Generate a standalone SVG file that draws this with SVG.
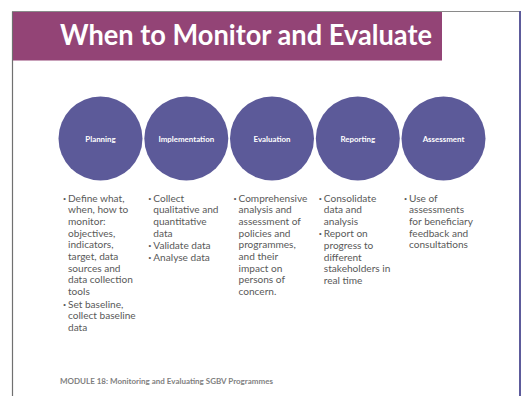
<svg xmlns="http://www.w3.org/2000/svg" width="522" height="396" viewBox="0 0 522 396">
<style>
.circ{fill:#5c5a99}
.lbl{font-family:Lato,"Open Sans","Liberation Sans",sans-serif;font-weight:bold;font-size:7.9px;fill:#ffffff;text-anchor:middle}
.body{font-family:Lato,"Open Sans","Liberation Sans",sans-serif;font-size:10.1px;fill:#595959}
.bul{font-family:"Liberation Sans",sans-serif;font-size:7.5px;fill:#595959}
.title{font-family:Lato,"Open Sans","Liberation Sans",sans-serif;font-weight:bold;font-size:28px;fill:#ffffff}
.foot{font-family:Lato,"Open Sans","Liberation Sans",sans-serif;font-weight:bold;font-size:7.6px;fill:#7f7f7f}
</style>
<rect x="0" y="0" width="522" height="396" fill="#ffffff"/>
<g id="frame">
<line x1="12.5" y1="11.5" x2="12.5" y2="396" stroke="#707070" stroke-width="1.2"/>
<line x1="12" y1="11.5" x2="521" y2="11.5" stroke="#8a8a8a" stroke-width="1"/>
<line x1="520" y1="11" x2="520" y2="396" stroke="#5d5b9b" stroke-width="2"/>
</g>
<g id="title">
<rect x="13" y="12" width="429" height="48.5" fill="#934476"/>
<text class="title" x="60" y="45" textLength="372" lengthAdjust="spacingAndGlyphs">When to Monitor and Evaluate</text>
</g>
<g id="node-planning">
<circle class="circ" cx="100.5" cy="138.5" r="42"/>
<text class="lbl" x="100.5" y="142">Planning</text>
</g>
<g id="node-implementation">
<circle class="circ" cx="186.3" cy="138.5" r="42"/>
<text class="lbl" x="186.3" y="142">Implementation</text>
</g>
<g id="node-evaluation">
<circle class="circ" cx="272" cy="138.5" r="42"/>
<text class="lbl" x="272" y="142">Evaluation</text>
</g>
<g id="node-reporting">
<circle class="circ" cx="357.8" cy="138.5" r="42"/>
<text class="lbl" x="357.8" y="142">Reporting</text>
</g>
<g id="node-assessment">
<circle class="circ" cx="443.5" cy="138.5" r="42"/>
<text class="lbl" x="443.5" y="142">Assessment</text>
</g>
<g id="list-planning">
<text class="bul" x="63.3" y="200.5">•</text>
<text class="bul" x="63.3" y="306.5">•</text>
<text class="body" x="68">
<tspan x="68" y="201.5">Define what,</tspan>
<tspan x="68" y="213.2">when, how to</tspan>
<tspan x="68" y="224.9">monitor:</tspan>
<tspan x="68" y="236.6">objectives,</tspan>
<tspan x="68" y="248.3">indicators,</tspan>
<tspan x="68" y="260">target, data</tspan>
<tspan x="68" y="271.7">sources and</tspan>
<tspan x="68" y="283.4">data collection</tspan>
<tspan x="68" y="295.1">tools</tspan>
<tspan x="68" y="307.5">Set baseline,</tspan>
<tspan x="68" y="319.2">collect baseline</tspan>
<tspan x="68" y="330.9">data</tspan>
</text>
</g>
<g id="list-implementation">
<text class="bul" x="148.6" y="200.5">•</text>
<text class="bul" x="148.6" y="248">•</text>
<text class="bul" x="148.6" y="259.7">•</text>
<text class="body" x="153.3">
<tspan x="153.3" y="201.5">Collect</tspan>
<tspan x="153.3" y="213.2">qualitative and</tspan>
<tspan x="153.3" y="224.9">quantitative</tspan>
<tspan x="153.3" y="236.6">data</tspan>
<tspan x="153.3" y="249">Validate data</tspan>
<tspan x="153.3" y="260.7">Analyse data</tspan>
</text>
</g>
<g id="list-evaluation">
<text class="bul" x="233.8" y="200.5">•</text>
<text class="body" x="238.5">
<tspan x="238.5" y="201.5">Comprehensive</tspan>
<tspan x="238.5" y="213.2">analysis and</tspan>
<tspan x="238.5" y="224.9">assessment of</tspan>
<tspan x="238.5" y="236.6">policies and</tspan>
<tspan x="238.5" y="248.3">programmes,</tspan>
<tspan x="238.5" y="260">and their</tspan>
<tspan x="238.5" y="271.7">impact on</tspan>
<tspan x="238.5" y="283.4">persons of</tspan>
<tspan x="238.5" y="295.1">concern.</tspan>
</text>
</g>
<g id="list-reporting">
<text class="bul" x="319.1" y="200.5">•</text>
<text class="bul" x="319.1" y="236.3">•</text>
<text class="body" x="323.8">
<tspan x="323.8" y="201.5">Consolidate</tspan>
<tspan x="323.8" y="213.2">data and</tspan>
<tspan x="323.8" y="224.9">analysis</tspan>
<tspan x="323.8" y="237.3">Report on</tspan>
<tspan x="323.8" y="249">progress to</tspan>
<tspan x="323.8" y="260.7">different</tspan>
<tspan x="323.8" y="272.4">stakeholders in</tspan>
<tspan x="323.8" y="284.1">real time</tspan>
</text>
</g>
<g id="list-assessment">
<text class="bul" x="404.3" y="200.5">•</text>
<text class="body" x="409">
<tspan x="409" y="201.5">Use of</tspan>
<tspan x="409" y="213.2">assessments</tspan>
<tspan x="409" y="224.9">for beneficiary</tspan>
<tspan x="409" y="236.6">feedback and</tspan>
<tspan x="409" y="248.3">consultations</tspan>
</text>
</g>
<g id="footer">
<text class="foot" x="60" y="384" textLength="213" lengthAdjust="spacingAndGlyphs">MODULE 18: Monitoring and Evaluating SGBV Programmes</text>
</g>
</svg>
